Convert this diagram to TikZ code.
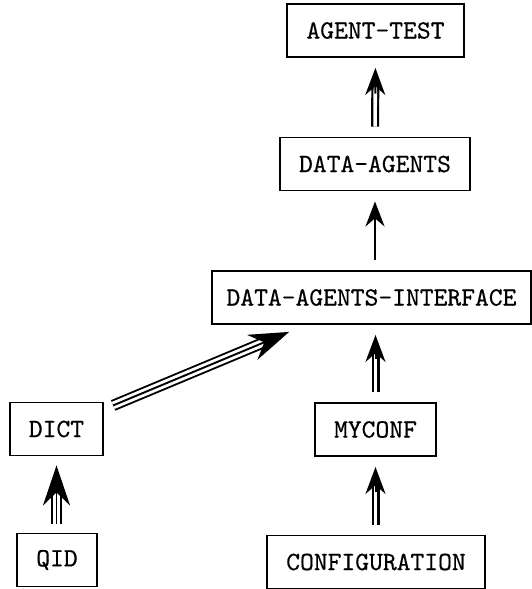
\documentclass[tikz,border=0pt]{standalone}
\usepackage{fontspec}
\newfontfamily\boxfont{lmmono10-regular}[Extension=.otf,FakeBold=0.45]
\usetikzlibrary{arrows.meta,calc}
\begin{document}
\begin{tikzpicture}[x=1pt,y=-1pt,
 box/.style={draw,line width=1.9pt,inner sep=0pt,minimum height=53pt,font=\boxfont\fontsize{26.3}{30}\selectfont},
 single/.style={line width=2pt,-{Stealth[length=25pt,width=19pt]},shorten <=10pt,shorten >=10pt},
 dshaft/.style={double,line width=2.2pt,double distance=3.6pt,shorten <=10pt,shorten >=25pt},
 dtip/.style={line width=2pt,-{Stealth[length=27pt,width=20pt]},shorten >=10pt,shorten <=43pt},
 tshaft/.style={double,line width=1.9pt,double distance=7.6pt},
 tline/.style={line width=1.9pt,-{Stealth[length=40pt,width=27pt]}},
]
\useasboundingbox (0,0) rectangle (532,589);
\node[box,minimum width=177pt] (at) at (375.5,30.5) {AGENT-TEST};
\node[box,minimum width=190pt] (da) at (375,164) {DATA-AGENTS};
\node[box,minimum width=319pt] (dai) at (371.5,297.5) {DATA-AGENTS-INTERFACE};
\node[box,minimum width=121pt] (my) at (375.5,429.5) {MYCONF};
\node[box,minimum width=218pt] (conf) at (376,562) {CONFIGURATION};
\node[box,minimum width=93pt] (dict) at (56.5,429) {DICT};
\node[box,minimum width=80pt] (qid) at (57,560) {QID};
% double arrows
\draw[dshaft] (da.north) -- (at.south);
\draw[dtip] (da.north) -- (at.south);
\draw[single] (dai.north -| da.south) -- (da.south);
\draw[dshaft] (my.north) -- (my.north |- dai.south);
\draw[dtip] (my.north) -- (my.north |- dai.south);
\draw[dshaft] (conf.north -| my.south) -- (my.south);
\draw[dtip] (conf.north -| my.south) -- (my.south);
% triple arrows
\draw[tshaft,shorten <=9pt,shorten >=32pt] (qid.north -| dict.south) -- (dict.south);
\draw[tline,shorten <=9pt,shorten >=9pt] (qid.north -| dict.south) -- (dict.south);
\draw[tshaft,shorten <=10pt,shorten >=40pt] (dict) -- (dai);
\draw[tline,shorten <=10pt,shorten >=18pt] (dict) -- (dai);
\end{tikzpicture}
\end{document}
